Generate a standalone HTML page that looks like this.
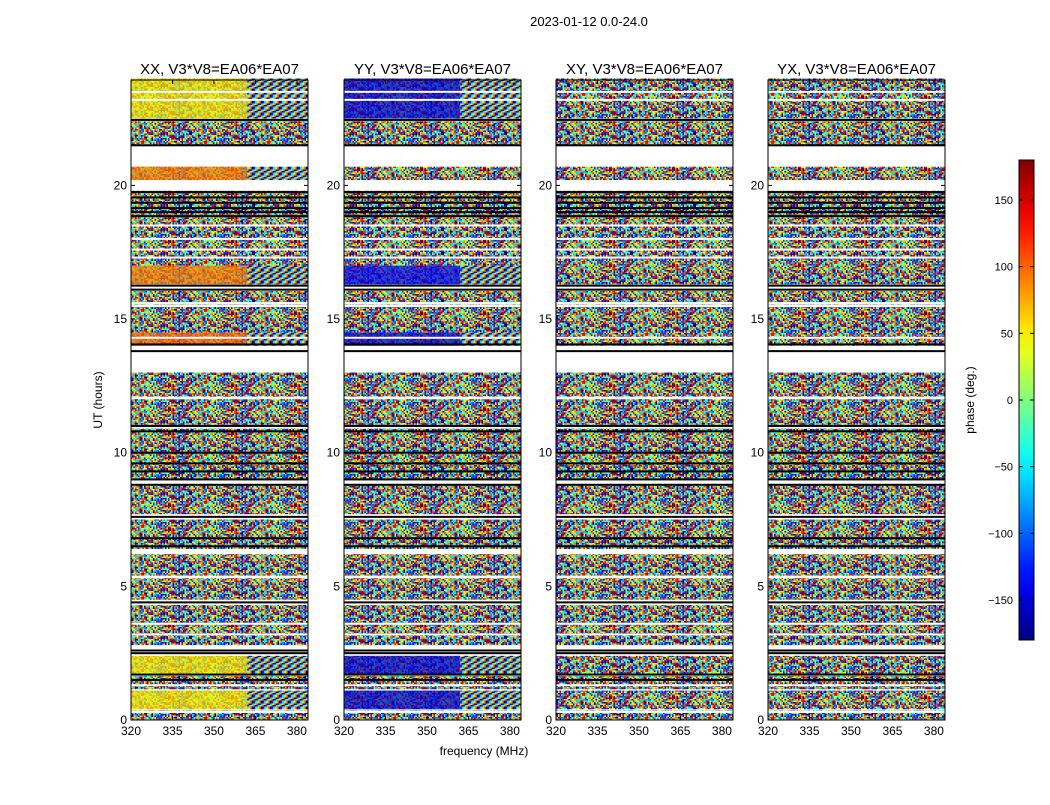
<!DOCTYPE html>
<html><head><meta charset="utf-8"><style>
body{margin:0;background:#fff;font-family:"Liberation Sans",sans-serif;}
svg text{font-family:"Liberation Sans",sans-serif;fill:#000;}
</style></head><body>
<svg id="c" width="1050" height="800" viewBox="0 0 1050 800">
<defs id="defs"></defs>
<text x="589" y="26" font-size="13" text-anchor="middle">2023-01-12 0.0-24.0</text>
<text x="484" y="755" font-size="12" text-anchor="middle">frequency (MHz)</text>
<text x="102" y="400" font-size="12" text-anchor="middle" transform="rotate(-90 102 400)">UT (hours)</text>
<text x="974" y="400" font-size="12" text-anchor="middle" transform="rotate(-90 974 400)">phase (deg.)</text>
<g id="panels"></g>
<g id="cbar"></g>
</svg>
<script>
// ---- data ----
const panelTitles = ["XX, V3*V8=EA06*EA07","YY, V3*V8=EA06*EA07","XY, V3*V8=EA06*EA07","YX, V3*V8=EA06*EA07"];
const segStart = [22.5,21.5,20.2,18.8,17.0,16.3,15.55,14.5,14.0,12.1,11.0,9.0,7.7,6.4,5.4,4.5,2.8,1.7,1.15,0.4,0.0];
const segEnd   = [24.0,22.4,20.7,19.8,18.8,17.0,16.05,15.45,14.5,13.0,12.0,10.9,8.8,7.5,6.2,5.3,4.3,2.4,1.65,1.1,0.35];
// mean phase of coherent segments per panel (null = noisy)
const phXX = [50,null,90,null,null,90,null,null,100,null,null,null,null,null,null,null,null,50,null,50,null];
const phYY = [-150,null,null,null,null,-140,null,null,-150,null,null,null,null,null,null,null,null,-150,null,-150,null];
const phXY = [null,null,null,null,null,null,null,null,null,null,null,null,null,null,null,null,null,null,null,null,null];
const phYX = [null,null,null,null,null,null,null,null,null,null,null,null,null,null,null,null,null,null,null,null,null];
const blackLines = [22.45,21.5,19.75,19.55,19.35,19.15,19.0,18.85,16.25,16.1,14.05,13.8,11.0,10.8,10.0,9.6,9.3,9.0,8.8,7.6,6.8,6.5,4.4,2.6,2.5,1.7,1.5];
const whiteLines = [23.5,23.2,18.5,18.0,17.6,17.3,15.6,14.3,3.6,3.2,1.3,0.3];
const xTicks = [320,335,350,365,380];
const yTicks = [0,5,10,15,20];
const cbTicks = [-150,-100,-50,0,50,100,150];
const fringeStart = 362;
// ---- layout ----
const panelLeft = [131,344,556,768], panelW = 177, pTop = 80, pBot = 720;
const fMin = 320, fMax = 384;
const yS = h => 720 - h*26.73;
const NS = "http://www.w3.org/2000/svg";
function el(tag, attrs, parent){const e=document.createElementNS(NS,tag);for(const k in attrs)e.setAttribute(k,attrs[k]);parent.appendChild(e);return e;}
function jet(v){
  const r=Math.min(Math.max(Math.min(4*v-1.5,-4*v+4.5),0),1);
  const g=Math.min(Math.max(Math.min(4*v-0.5,-4*v+3.5),0),1);
  const b=Math.min(Math.max(Math.min(4*v+0.5,-4*v+2.5),0),1);
  return `rgb(${Math.round(r*255)},${Math.round(g*255)},${Math.round(b*255)})`;}
const phaseColor = p => jet((p+180)/360);
// noise texture tile (decorative)
const defs=document.getElementById('defs');
const pat=el('pattern',{id:'noise',width:63,height:24,patternUnits:'userSpaceOnUse'},defs);
let seed=7;
for(let j=0;j<16;j++)for(let i=0;i<42;i++){seed=(Math.imul(seed,1103515245)+12345)>>>0;const v=((seed>>>8)%1000)/1000;
  el('rect',{x:i*1.5,y:j*1.5,width:1.5,height:1.5,fill:jet(v)},pat);}
const pat2=el('pattern',{id:'fringe',width:9,height:6,patternUnits:'userSpaceOnUse'},defs);
for(let i=0;i<6;i++){for(let j=0;j<4;j++)el('rect',{x:i*1.5,y:j*1.5,width:1.5,height:1.5,fill:jet(((i+j*2)%6)/6)},pat2);}
// ---- panels ----
const panels=document.getElementById('panels');
const phases=[phXX,phYY,phXY,phYX];
panelLeft.forEach((L,pi)=>{
  const g=el('g',{},panels);
  
  
  const xS=f=>L+(f-fMin)/(fMax-fMin)*panelW;
  el('rect',{x:L,y:pTop,width:panelW,height:pBot-pTop,fill:'#fff'},g);
  segStart.forEach((a,i)=>{
    const b=segEnd[i], y1=yS(b), y2=yS(a), p=phases[pi][i];
    if(p===null){
      const r=el('rect',{x:L,y:y1,width:panelW,height:y2-y1,fill:'url(#noise)'},g);
      
      
    } else {
      const r=el('rect',{x:L,y:y1,width:xS(fringeStart)-L,height:y2-y1,fill:phaseColor(p)},g);
      
      
      el('rect',{x:L,y:y1,width:xS(fringeStart)-L,height:y2-y1,fill:'url(#noise)',opacity:0.3},g);
      const f=el('rect',{x:xS(fringeStart),y:y1,width:L+panelW-xS(fringeStart),height:y2-y1,fill:'url(#fringe)'},g);
      
      
    }
  });
  whiteLines.forEach(h=>{el('rect',{x:L,y:yS(h)-1,width:panelW,height:2,fill:'#fff'},g);});
  blackLines.forEach(h=>{const r=el('rect',{x:L,y:yS(h)-1,width:panelW,height:2,fill:'#000'},g);
    
    });
  el('rect',{x:L,y:pTop,width:panelW,height:pBot-pTop,fill:'none',stroke:'#000','stroke-width':1},g);
  const t=el('text',{x:L+panelW/2,y:pTop-6,'font-size':15,'text-anchor':'middle'},g);t.textContent=panelTitles[pi];
  
  
  xTicks.forEach(f=>{const x=xS(f);
    el('line',{x1:x,x2:x,y1:pBot,y2:pBot-4,stroke:'#000'},g);el('line',{x1:x,x2:x,y1:pTop,y2:pTop+4,stroke:'#000'},g);
    const tt=el('text',{x:x,y:pBot+15,'font-size':12,'text-anchor':'middle'},g);tt.textContent=f;
    
    });
  yTicks.forEach(h=>{const y=yS(h);
    el('line',{x1:L,x2:L+4,y1:y,y2:y,stroke:'#000'},g);el('line',{x1:L+panelW,x2:L+panelW-4,y1:y,y2:y,stroke:'#000'},g);
    const tt=el('text',{x:L-4,y:y+4,'font-size':12,'text-anchor':'end'},g);tt.textContent=h;
    
    });
});
// ---- colorbar ----
const cb=document.getElementById('cbar');
const cbX=1019,cbW=15,cbT=160,cbB=640;
const cbY=p=>cbB-(p+180)/360*(cbB-cbT);
const grad=el('linearGradient',{id:'jetg',x1:0,y1:1,x2:0,y2:0},defs);
for(let i=0;i<=20;i++)el('stop',{offset:i/20,'stop-color':jet(i/20)},grad);
const cbr=el('rect',{x:cbX,y:cbT,width:cbW,height:cbB-cbT,fill:'url(#jetg)',stroke:'#000'},cb);


cbTicks.forEach(p=>{const y=cbY(p);
  el('line',{x1:cbX,x2:cbX+4,y1:y,y2:y,stroke:'#000'},cb);el('line',{x1:cbX+cbW,x2:cbX+cbW-4,y1:y,y2:y,stroke:'#000'},cb);
  const t=el('text',{x:cbX-6,y:y+4,'font-size':11,'text-anchor':'end'},cb);t.textContent=(p<0?'\u2212':'')+Math.abs(p);
  
  });
</script>
</body></html>
